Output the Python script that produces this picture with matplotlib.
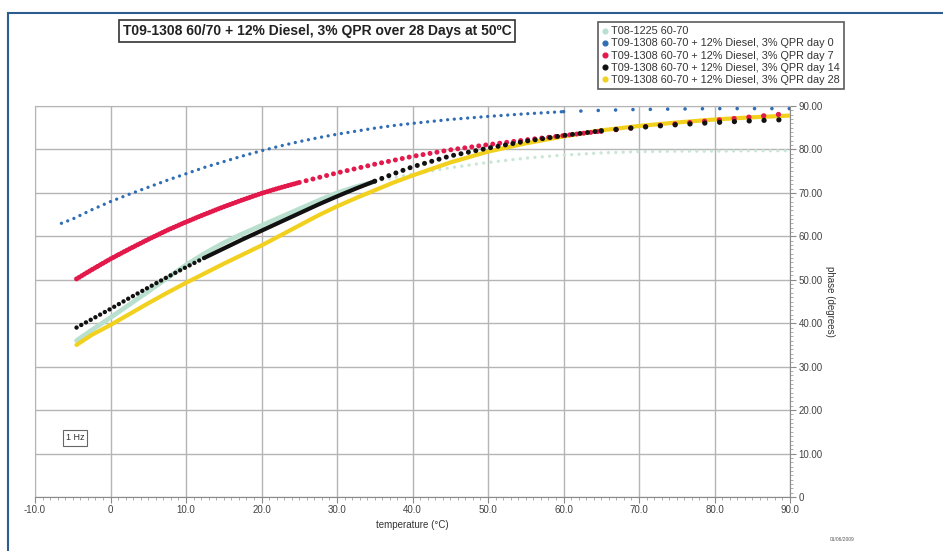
import matplotlib
matplotlib.use("Agg")
import matplotlib.pyplot as plt
from matplotlib.lines import Line2D
from matplotlib.ticker import MultipleLocator, FuncFormatter

plt.rcParams["font.family"] = ["Liberation Sans", "DejaVu Sans"]

title = "T09-1308 60/70 + 12% Diesel, 3% QPR over 28 Days at 50ºC"
labels = [
    "T08-1225 60-70",
    "T09-1308 60-70 + 12% Diesel, 3% QPR day 0",
    "T09-1308 60-70 + 12% Diesel, 3% QPR day 7",
    "T09-1308 60-70 + 12% Diesel, 3% QPR day 14",
    "T09-1308 60-70 + 12% Diesel, 3% QPR day 28",
]

# temperatures (°C)
temps_day0 = [-6.5, -5, -2.5, 0, 2.5, 5, 7.5, 10, 12.5, 15, 17.5, 20, 22.5, 25, 27.5, 30,
              32.5, 35, 37.5, 40, 45, 50, 55, 60, 65, 70, 75, 80, 85, 90]
temps = [-4.5, -2.5, 0, 2.5, 5, 7.5, 10, 12.5, 15, 17.5, 20, 22.5, 25, 27.5, 30,
         32.5, 35, 37.5, 40, 45, 50, 55, 60, 65, 70, 75, 80, 85, 90]

# phase angle (degrees)
t08 = [36.0, 38.4, 41.3, 44.3, 47.3, 50.4, 53.4, 56.1, 58.5, 60.6, 62.5, 64.4, 66.3, 68.2, 70.0,
       71.4, 72.6, 73.5, 74.3, 75.8, 77.0, 78.0, 78.7, 79.2, 79.5, 79.6, 79.6, 79.7, 79.7]
day0 = [63.0, 64.0, 66.1, 68.0, 69.7, 71.3, 72.9, 74.4, 75.9, 77.2, 78.5, 79.7, 80.8, 81.8, 82.7,
        83.5, 84.2, 84.9, 85.5, 86.0, 86.9, 87.6, 88.2, 88.7, 89.0, 89.2, 89.3, 89.4, 89.4, 89.4]
day7 = [50.2, 52.3, 54.8, 57.1, 59.3, 61.4, 63.3, 65.1, 66.8, 68.4, 69.9, 71.2, 72.4, 73.5, 74.6,
        75.6, 76.6, 77.5, 78.4, 79.9, 81.1, 82.2, 83.2, 84.2, 85.1, 85.9, 86.7, 87.5, 88.3]
day14 = [39.0, 40.9, 43.3, 45.8, 48.2, 50.6, 52.9, 55.1, 57.2, 59.3, 61.3, 63.3, 65.3, 67.3, 69.2,
         71.0, 72.7, 74.4, 76.0, 78.5, 80.3, 81.9, 83.2, 84.3, 85.1, 85.7, 86.2, 86.6, 86.9]
day28 = [35.0, 37.3, 39.6, 42.1, 44.6, 47.0, 49.3, 51.5, 53.7, 55.8, 57.9, 60.2, 62.5, 64.8, 66.9,
         68.8, 70.6, 72.4, 74.0, 77.0, 79.5, 81.4, 83.0, 84.4, 85.4, 86.2, 86.9, 87.4, 87.8]

colors = ["#b9e0cf", "#2f6db5", "#e3194b", "#111111", "#f2d01e"]


def part(ax, t, v, color, lo, hi, lw, gap=None, z=3):
    xs = [a for a in t if lo <= a <= hi]
    ys = [b for a, b in zip(t, v) if lo <= a <= hi]
    if gap is None:
        ax.plot(xs, ys, color=color, lw=lw, solid_capstyle="round", zorder=z)
    else:
        ax.plot(xs, ys, color=color, lw=lw, linestyle=(0, (0.01, gap)),
                dash_capstyle="round", zorder=z)


fig = plt.figure(figsize=(9.43, 5.51), dpi=100)
W, H = 943, 551
ax = fig.add_axes([35 / W, 1 - 497 / H, (790 - 35) / W, (497 - 106) / H])
ax.set_xlim(-10, 90)
ax.set_ylim(0, 90)

# series
part(ax, temps, t08, colors[0], -10, 35, 3.4, z=2)
part(ax, temps, t08, "#c9e6d6", 35, 90, 2.4, gap=2.2, z=2)
part(ax, temps, day28, colors[4], -10, 90, 3.0, z=3)
part(ax, temps_day0, day0, colors[1], -10, 60, 2.4, gap=2.0, z=4)
part(ax, temps_day0, day0, colors[1], 60, 90, 2.6, gap=4.8, z=4)
part(ax, temps, day7, colors[2], -10, 25, 3.6, gap=0.6, z=4)
part(ax, temps, day7, colors[2], 25, 65, 3.6, gap=1.4, z=4)
part(ax, temps, day7, colors[2], 65, 90, 3.8, gap=2.8, z=4)
part(ax, temps, day14, colors[3], -10, 12.5, 3.2, gap=1.2, z=5)
part(ax, temps, day14, colors[3], 12.5, 35, 3.0, z=5)
part(ax, temps, day14, colors[3], 35, 65, 3.6, gap=1.5, z=5)
part(ax, temps, day14, colors[3], 65, 90, 3.8, gap=2.8, z=5)

# axes styling
ax.xaxis.set_major_locator(MultipleLocator(10))
ax.yaxis.set_major_locator(MultipleLocator(10))
ax.xaxis.set_minor_locator(MultipleLocator(1))
ax.yaxis.set_minor_locator(MultipleLocator(1))
ax.grid(True, which="major", color="#b5b5b5", lw=1.0)
ax.set_axisbelow(True)
for s in ["left", "top"]:
    ax.spines[s].set_color("#b5b5b5")
for s in ["right", "bottom"]:
    ax.spines[s].set_color("#8a8a8a")
ax.yaxis.tick_right()
ax.yaxis.set_label_position("right")
ax.tick_params(which="major", length=4, color="#8a8a8a", labelsize=7, labelcolor="#444444", pad=2)
ax.tick_params(which="minor", length=2, color="#a0a0a0")
ax.xaxis.set_major_formatter(FuncFormatter(lambda v, p: "0" if v == 0 else "%.1f" % v))
ax.yaxis.set_major_formatter(FuncFormatter(lambda v, p: "0" if v == 0 else "%.2f" % v))
ax.set_xlabel("temperature (°C)", fontsize=7, color="#333333", labelpad=3)
ax.set_ylabel("phase (degrees)", fontsize=7, color="#333333", rotation=270, labelpad=9)

ax.text(-4.7, 13.6, "1 Hz", fontsize=6.5, ha="center", va="center", color="#333333",
        bbox=dict(boxstyle="square,pad=0.35", fc="white", ec="#666666", lw=0.8))

# legend
handles = [Line2D([], [], marker="o", ls="none", color=c, markersize=3.4) for c in colors]
leg = ax.legend(handles, labels, loc="upper left", bbox_to_anchor=(598 / W, 1 - 22 / H),
                bbox_transform=fig.transFigure, fontsize=7.8, frameon=True, fancybox=False,
                handlelength=0.5, handletextpad=0.3, labelspacing=0.2, borderpad=0.4,
                borderaxespad=0)
leg.get_frame().set_edgecolor("#333333")
leg.get_frame().set_linewidth(1.2)
for txt in leg.get_texts():
    txt.set_color("#333333")

# title box
fig.text(317 / W, 1 - 31 / H, title, ha="center", va="center", fontsize=10, fontweight="bold",
         color="#222222",
         bbox=dict(boxstyle="square,pad=0.3", fc="white", ec="#333333", lw=1.2))

# page frame
fig.add_artist(Line2D([8 / W, 1], [1 - 13 / H, 1 - 13 / H], color="#2c5d8f", lw=1.5))
fig.add_artist(Line2D([8 / W, 8 / W], [0, 1 - 13 / H], color="#2c5d8f", lw=1.5))

fig.text(842 / W, 1 - 541 / H, "01/06/2009", fontsize=3.5, color="#555555", ha="center")

fig.savefig("out.png", dpi=100)
